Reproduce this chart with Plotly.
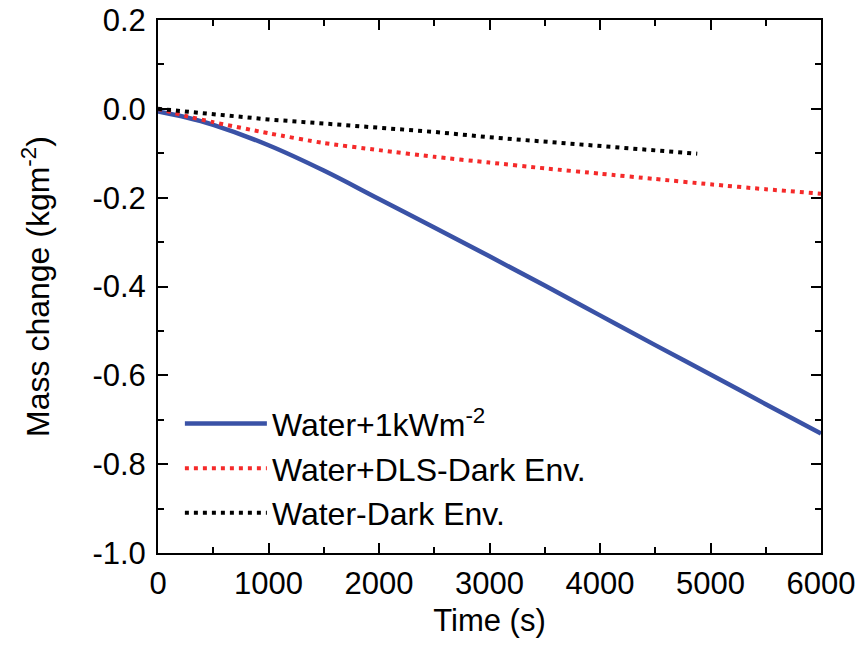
import plotly.graph_objects as go

time_blue = [0, 250, 500, 1000, 1500, 2000, 2500, 3000, 3500, 4000, 4500, 5000, 5500, 6000]
mass_blue = [-0.006, -0.019, -0.036, -0.082, -0.139, -0.203, -0.267, -0.332, -0.398, -0.465, -0.532, -0.598, -0.665, -0.731]

time_red = [0, 250, 500, 1000, 1500, 2000, 2500, 3000, 3500, 4000, 4500, 5000, 5500, 6000]
mass_red = [0.0, -0.016, -0.03, -0.055, -0.077, -0.093, -0.108, -0.121, -0.134, -0.146, -0.158, -0.17, -0.181, -0.191]

time_black = [0, 500, 1000, 1500, 2000, 2500, 3000, 3500, 4000, 4500, 4880]
mass_black = [0.0, -0.012, -0.024, -0.033, -0.042, -0.052, -0.064, -0.074, -0.084, -0.093, -0.101]

x_ticks = [0, 1000, 2000, 3000, 4000, 5000, 6000]
y_ticks = [0.2, 0.0, -0.2, -0.4, -0.6, -0.8, -1.0]
y_ticktext = ["0.2", "0.0", "-0.2", "-0.4", "-0.6", "-0.8", "-1.0"]

font = "Liberation Sans, Arial, sans-serif"

fig = go.Figure()
fig.add_trace(go.Scatter(x=time_blue, y=mass_blue, mode="lines", name="Water+1kWm<sup>-2</sup>",
                         line=dict(color="#3A52A6", width=4.5, shape="spline", smoothing=1.0)))
fig.add_trace(go.Scatter(x=time_red, y=mass_red, mode="lines", name="Water+DLS-Dark Env.",
                         line=dict(color="#F52A2A", width=4, dash="4px,5px", shape="spline", smoothing=0.6)))
fig.add_trace(go.Scatter(x=time_black, y=mass_black, mode="lines", name="Water-Dark Env.",
                         line=dict(color="#000000", width=4, dash="4px,5px")))

axis_common = dict(showline=True, linecolor="black", linewidth=2, mirror="ticks",
                   ticks="inside", ticklen=10, tickwidth=2, tickcolor="black",
                   showgrid=False, zeroline=False,
                   tickfont=dict(family=font, size=31, color="black"))

fig.update_xaxes(range=[0, 6000], tickvals=x_ticks, ticktext=[str(v) for v in x_ticks],
                 minor=dict(ticks="inside", ticklen=6, tickwidth=2, tickcolor="black", dtick=500),
                 title=dict(text="Time (s)", font=dict(family=font, size=31, color="black"), standoff=9),
                 ticklabelstandoff=2,
                 **axis_common)
fig.update_yaxes(range=[-1.0, 0.2], tickvals=y_ticks, ticktext=y_ticktext,
                 minor=dict(ticks="inside", ticklen=6, tickwidth=2, tickcolor="black", dtick=0.1),
                 title=dict(text="Mass change (kgm<sup>-2</sup>)", font=dict(family=font, size=32, color="black"), standoff=33),
                 ticklabelstandoff=4,
                 **axis_common)

fig.update_layout(
    width=864, height=646,
    margin=dict(l=158, r=43, t=20, b=93, autoexpand=False),
    plot_bgcolor="white", paper_bgcolor="white",
    legend=dict(x=0.033, y=0.294, xanchor="left", yanchor="top",
                font=dict(family=font, size=32, color="black"),
                bgcolor="rgba(0,0,0,0)", tracegroupgap=0, itemwidth=82),
    showlegend=True,
)

fig.write_html("out.html", config={"displayModeBar": False},
               post_script="document.body.style.margin='0';")
